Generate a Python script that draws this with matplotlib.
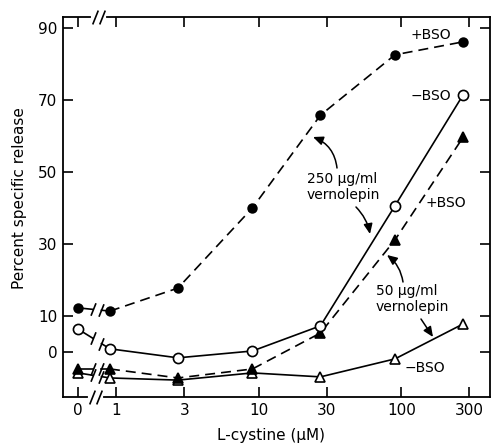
import numpy as np
import matplotlib
matplotlib.use('Agg')
import matplotlib.pyplot as plt
from matplotlib.ticker import NullLocator

# ---- data ----
conc = [0, 0.9, 2.7, 9, 27, 90, 270]              # L-cystine (uM)
plus_bso_250 = [12.2, 11.3, 17.7, 40.0, 65.8, 82.6, 86.2]
minus_bso_250 = [6.3, 0.8, -1.7, 0.2, 7.2, 40.6, 71.4]
plus_bso_50 = [-4.8, -4.8, -7.3, -4.8, 5.2, 31.1, 59.6]
minus_bso_50 = [-5.9, -7.3, -7.9, -5.9, -7.0, -2.0, 7.7]
x_ticks = [0, 1, 3, 10, 30, 100, 300]
x_tick_labels = ['0', '1', '3', '10', '30', '100', '300']
y_ticks = [0, 10, 30, 50, 70, 90]

ZERO_AT = 10 ** -0.27   # where "0" sits on the broken log axis


def xpos(c):
    c = np.asarray(c, float)
    return np.where(c == 0, ZERO_AT, c)


W, H = 495, 443
fig = plt.figure(figsize=(W / 100, H / 100), dpi=100)
ax = fig.add_axes([63 / W, 1 - 397 / H, (490 - 63) / W, (397 - 16.7) / H])
ax.set_xscale('log')
ax.set_xlim(10 ** -0.375, 10 ** 2.621)
ax.set_ylim(-12.6, 93.2)

SLASH = [(-0.4, -1.0), (0.4, 1.0)]
LW = 1.2


def series(y, marker, filled, dashed, z, ms):
    x = xpos(conc)
    y = np.asarray(y, float)
    style = dict(color='k', lw=LW)
    if dashed:
        style.update(ls=(0, (6, 3.6)))
    mk = dict(marker=marker, ms=ms, mfc='k' if filled else 'white',
              mec='k', mew=1.2)
    ax.plot(x[1:], y[1:], zorder=z, **style, **mk)
    # broken segment between 0 and the first concentration
    lx = np.log10(x[:2])
    b1, b2 = -0.165, -0.105
    yb1 = np.interp(b1, lx, y[:2])
    yb2 = np.interp(b2, lx, y[:2])
    ax.plot([x[0], 10 ** b1], [y[0], yb1], color='k', lw=LW, zorder=z - 0.5)
    ax.plot([10 ** b2, x[1]], [yb2, y[1]], color='k', lw=LW, zorder=z - 0.5)
    ax.plot([10 ** b1, 10 ** b2], [yb1, yb2], ls='none', marker=SLASH, ms=9,
            mec='k', mew=1.2, zorder=z)
    ax.plot([x[0]], [y[0]], ls='none', zorder=z + 0.1, **mk)


series(minus_bso_50, '^', False, False, 3, 7.5)
series(plus_bso_50, '^', True, True, 4, 7.5)
series(minus_bso_250, 'o', False, False, 5, 7.3)
series(plus_bso_250, 'o', True, True, 6, 6.3)

# ---- axes, ticks ----
ax.set_xticks(xpos(x_ticks))
ax.set_xticklabels(x_tick_labels)
ax.xaxis.set_minor_locator(NullLocator())
ax.set_yticks(y_ticks)
ax.tick_params(which='major', direction='in', length=7, width=1.2,
               top=True, right=True, labelsize=11, pad=4)
for s in ax.spines.values():
    s.set_linewidth(1.3)

# axis breaks
xt = ax.get_xaxis_transform()
ax.plot([10 ** -0.185, 10 ** -0.11], [0, 0], color='white', lw=3,
        transform=xt, clip_on=False, zorder=10)
ax.plot([10 ** -0.172, 10 ** -0.123], [0, 0], ls='none', marker=SLASH, ms=10,
        mec='k', mew=1.2, transform=xt, clip_on=False, zorder=11)
ax.plot([10 ** -0.165, 10 ** -0.09], [1, 1], color='white', lw=3,
        transform=xt, clip_on=False, zorder=10)
ax.plot([10 ** -0.151, 10 ** -0.102], [1, 1], ls='none', marker=SLASH, ms=10,
        mec='k', mew=1.2, transform=xt, clip_on=False, zorder=11)

ax.set_xlabel('L-cystine (\u03bcM)', fontsize=11)
ax.xaxis.set_label_coords((271 - 63) / 427, (397 - 428) / 380.3)
ax.set_ylabel('Percent specific release', fontsize=11)
ax.yaxis.set_label_coords((27 - 63) / 427, (397 - 198) / 380.3)


# ---- annotations (figure pixel positions) ----
def fp(px, py):
    return (px / W, 1 - py / H)


FS = 10
fig.text(*fp(431, 35), '+BSO', ha='center', va='center', fontsize=FS)
fig.text(*fp(431, 96), '\u2212BSO', ha='center', va='center', fontsize=FS)
fig.text(*fp(446, 203), '+BSO', ha='center', va='center', fontsize=FS)
fig.text(*fp(425, 368), '\u2212BSO', ha='center', va='center', fontsize=FS)
fig.text(*fp(307, 187), '250 \u03bcg/ml\nvernolepin', ha='left', va='center',
         fontsize=FS, linespacing=1.1)
fig.text(*fp(376, 299), '50 \u03bcg/ml\nvernolepin', ha='left', va='center',
         fontsize=FS, linespacing=1.1)

arrows = [
    ((337, 168), (313, 137), 0.3),
    ((356, 207), (370, 234), -0.15),
    ((403, 282), (387, 255), 0.2),
    ((421, 319), (433, 337), 0.0),
]
for start, tip, rad in arrows:
    ax.annotate('', xy=fp(*tip), xytext=fp(*start),
                xycoords='figure fraction', textcoords='figure fraction',
                arrowprops=dict(arrowstyle='-|>,head_length=0.5,head_width=0.22',
                                connectionstyle=f'arc3,rad={rad}',
                                color='k', lw=1.1, mutation_scale=12,
                                shrinkA=0, shrinkB=0))

fig.savefig('out.png', dpi=100)
